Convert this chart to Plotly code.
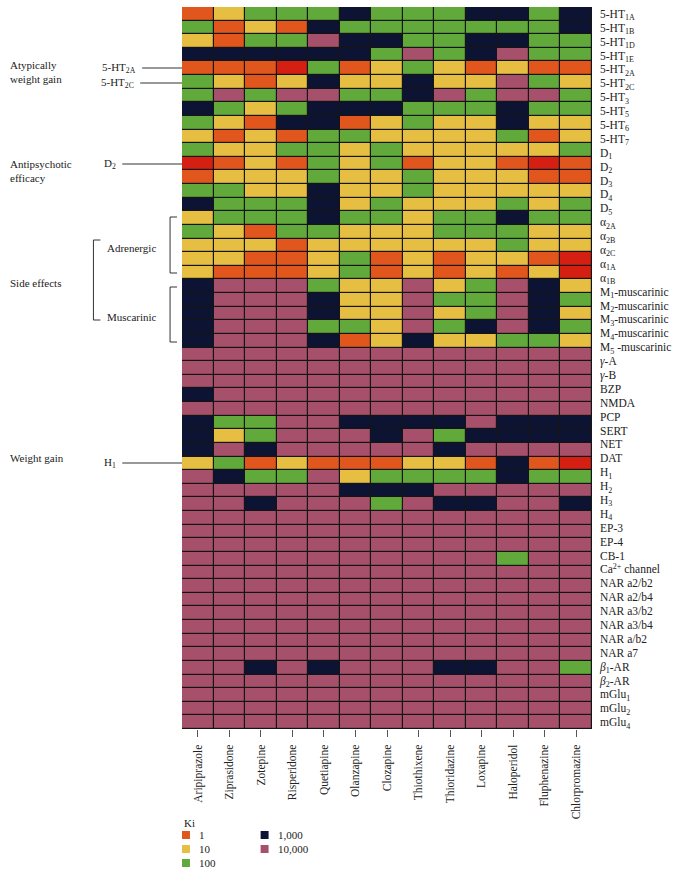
import plotly.graph_objects as go

# ---------------- data ----------------
drugs = ["Aripiprazole", "Ziprasidone", "Zotepine", "Risperidone", "Quetiapine",
         "Olanzapine", "Clozapine", "Thiothixene", "Thioridazine", "Loxapine",
         "Haloperidol", "Fluphenazine", "Chlorpromazine"]

receptors = ["5-HT<sub>1A</sub>", "5-HT<sub>1B</sub>", "5-HT<sub>1D</sub>", "5-HT<sub>1E</sub>",
             "5-HT<sub>2A</sub>", "5-HT<sub>2C</sub>", "5-HT<sub>3</sub>", "5-HT<sub>5</sub>",
             "5-HT<sub>6</sub>", "5-HT<sub>7</sub>", "D<sub>1</sub>", "D<sub>2</sub>",
             "D<sub>3</sub>", "D<sub>4</sub>", "D<sub>5</sub>", "α<sub>2A</sub>",
             "α<sub>2B</sub>", "α<sub>2C</sub>", "α<sub>1A</sub>", "α<sub>1B</sub>",
             "M<sub>1</sub>-muscarinic", "M<sub>2</sub>-muscarinic", "M<sub>3</sub>-muscarinic",
             "M<sub>4</sub>-muscarinic", "M<sub>5</sub> -muscarinic", "<i>γ</i>-A", "<i>γ</i>-B",
             "BZP", "NMDA", "PCP", "SERT", "NET", "DAT", "H<sub>1</sub>", "H<sub>2</sub>",
             "H<sub>3</sub>", "H<sub>4</sub>", "EP-3", "EP-4", "CB-1", "Ca<sup>2+</sup> channel",
             "NAR a2/b2", "NAR a2/b4", "NAR a3/b2", "NAR a3/b4", "NAR a/b2", "NAR a7",
             "<i>β</i><sub>1</sub>-AR", "<i>β</i><sub>2</sub>-AR", "mGlu<sub>1</sub>",
             "mGlu<sub>2</sub>", "mGlu<sub>4</sub>"]

# Ki class of each cell (R = <1, O = 1, Y = 10, G = 100, N = 1,000, P = 10,000)
grid_rows = [
    "OYGGGNGGGNNGN", "GOYONGGGGGGGN", "YOGGPNNGGNNGG", "NNNNNNGPGNPGG",
    "OOORGOYGYOYOO", "GYOYNYYNYYPGY", "GPGPPGGNPGPPG", "NGYGNNNGGGNGG",
    "GYONNOYGYYNYY", "YOYOGGYYYYGOY", "GYYGGYGYYYYYG", "ROYOGYGOYYORO",
    "OYYYGYYGYYYOO", "GGYYNYYGYYYYY", "NGGGNYGYYYGYG", "YGGGNGGYGGNGG",
    "GYOGGYYYGGGYY", "YYYOYYYYYYGYY", "YYOOYGOYOYYOR", "YOOOYGOYOYOYR",
    "NPPPGYYPYGPNY", "NPPPNYYPGGPNG", "NPPPNYYPYGPNY", "NPPPGGYPGNPNG",
    "NPPPNOYNYYGGY", "PPPPPPPPPPPPP", "PPPPPPPPPPPPP", "PPPPPPPPPPPPP",
    "NPPPPPPPPPPPP", "PPPPPPPPPPPPP", "NGGPPNNNNPNNN", "NYGPPPNPGNNNN",
    "NPNPPPPPNPPPP", "YGOYOOOYYONOR", "PNGGPYGGGGNGG", "PPPPPNNNPPPPP",
    "PPNPPPGPNNPPN", "PPPPPPPPPPPPP", "PPPPPPPPPPPPP", "PPPPPPPPPPPPP",
    "PPPPPPPPPPGPP", "PPPPPPPPPPPPP", "PPPPPPPPPPPPP", "PPPPPPPPPPPPP",
    "PPPPPPPPPPPPP", "PPPPPPPPPPPPP", "PPPPPPPPPPPPP", "PPPPPPPPPPPPP",
    "PPNPNPPPNNPPG", "PPPPPPPPPPPPP", "PPPPPPPPPPPPP", "PPPPPPPPPPPPP",
    "PPPPPPPPPPPPP",
]

class_codes = ["R", "O", "Y", "G", "N", "P"]
class_colors = ["#d51f12", "#e0561c", "#e6bf42", "#60a93a", "#0c1333", "#a7506b"]
legend_labels = ["1", "10", "100", "1,000", "10,000"]

# ---------------- figure geometry (pixels) ----------------
W, H = 678, 874
GL, GR, GT, GB = 182, 594, 7, 729


def px(x):
    return (x - GL) / (GR - GL)


def py(y):
    return (GB - y) / (GB - GT)


n_rows = len(grid_rows)
z = [[class_codes.index(c) for c in row] for row in grid_rows]

ncls = len(class_colors)
colorscale = []
for i, c in enumerate(class_colors):
    colorscale.append([i / ncls, c])
    colorscale.append([(i + 1) / ncls, c])

fig = go.Figure()
fig.add_trace(go.Heatmap(
    z=z, x=list(range(len(drugs))), y=list(range(n_rows)),
    zmin=-0.5, zmax=ncls - 0.5, colorscale=colorscale, showscale=False,
    xgap=1.2, ygap=1.2, hoverinfo="skip",
))

label_pos = [i * (n_rows - 1) / (len(receptors) - 1) for i in range(len(receptors))]

serif = "Liberation Serif, DejaVu Serif, serif"
txt = "#222222"

fig.update_layout(
    width=W, height=H,
    margin=dict(l=GL, r=W - GR, t=GT, b=H - GB),
    paper_bgcolor="white", plot_bgcolor="#151515",
    font=dict(family=serif, size=11, color=txt),
    showlegend=False,
    xaxis=dict(range=[-0.5, len(drugs) - 0.5], tickvals=list(range(len(drugs))),
               ticktext=drugs, tickangle=-90, ticks="outside", ticklen=7,
               tickcolor="#555", tickfont=dict(size=11.5, family=serif, color=txt),
               ticklabelstandoff=3,
               showgrid=False, zeroline=False, fixedrange=True),
    yaxis=dict(range=[n_rows - 0.5, -0.5], side="right", tickvals=label_pos,
               ticktext=receptors, ticks="", ticklabelstandoff=7,
               tickfont=dict(size=11.5, family=serif, color=txt),
               showgrid=False, zeroline=False, fixedrange=True),
)

shapes = []
annos = []


def line(x0, y0, x1, y1):
    shapes.append(dict(type="line", xref="paper", yref="paper",
                       x0=px(x0), y0=py(y0), x1=px(x1), y1=py(y1),
                       line=dict(color="#333", width=1)))


def text(x, y, s, anchor="left", size=11):
    annos.append(dict(xref="paper", yref="paper", x=px(x), y=py(y), text=s,
                      showarrow=False, xanchor=anchor, yanchor="middle", align="left",
                      font=dict(family=serif, size=size, color=txt)))


# left-side annotations
text(7, 72, "Atypically<br>weight gain")
text(7, 171, "Antipsychotic<br>efficacy")
text(7, 283, "Side effects")
text(7, 458, "Weight gain")
text(138, 68, "5-HT<sub>2A</sub>", anchor="right")
text(136, 83, "5-HT<sub>2C</sub>", anchor="right")
text(118, 164, "D<sub>2</sub>", anchor="right")
text(118, 463, "H<sub>1</sub>", anchor="right")
text(105, 248, "Adrenergic")
text(105, 317, "Muscarinic")
line(142, 68, GL, 68)
line(140, 83, GL, 83)
line(122, 164, GL, 164)
line(122, 463, GL, 463)
# brackets
for (y0, y1) in [(217, 273), (287, 342)]:
    line(170, y0, 170, y1)
    line(170, y0, 177, y0)
    line(170, y1, 177, y1)
line(93, 240, 93, 320)
line(93, 240, 100, 240)
line(93, 320, 100, 320)

# Ki legend
text(182, 823, "Ki")
leg_pos = [(182, 835), (182, 849), (182, 863), (261, 835), (261, 849)]
for (lx, ly), lab, col in zip(leg_pos, legend_labels, class_colors[1:]):
    shapes.append(dict(type="rect", xref="paper", yref="paper",
                       x0=px(lx), x1=px(lx + 8), y0=py(ly - 4), y1=py(ly + 4),
                       fillcolor=col, line=dict(width=0)))
    text(lx + 15, ly, lab)

fig.update_layout(shapes=shapes, annotations=annos)
fig.write_html("out.html", config={"displayModeBar": False},
               post_script="document.body.style.margin='0';document.body.style.overflow='hidden';")
